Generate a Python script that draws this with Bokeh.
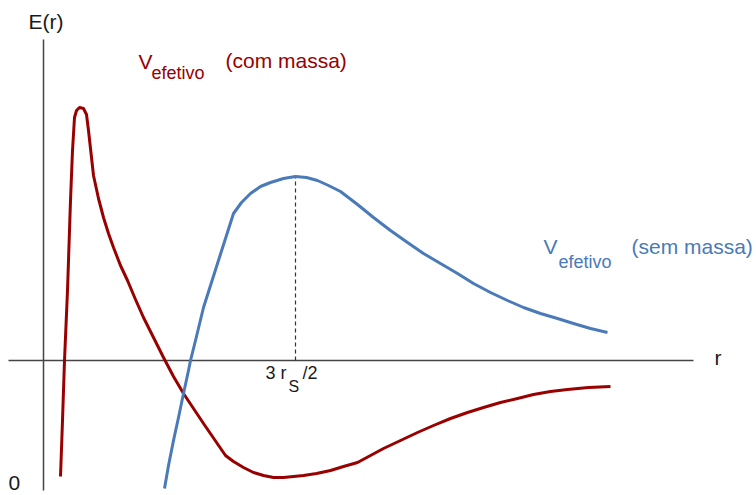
from bokeh.plotting import figure
from bokeh.models import Range1d
from bokeh.core.properties import value
from bokeh.embed import file_html
from bokeh.resources import INLINE

# Effective potential sketch: radius r (arbitrary units), energy E (arbitrary units)
r_massive = [17, 19, 21, 24, 27, 29, 31, 33, 36, 40, 43, 45, 47, 50, 55, 60, 65, 70, 77, 84,
             92, 100, 110, 120, 130, 140, 150, 160, 171, 182, 190, 200, 210, 220, 230, 240,
             250, 260, 273, 287, 300, 314, 327, 340, 357, 374, 390, 407, 424, 440, 457, 474,
             490, 507, 524, 545, 567]
e_massive = [-116, -60, 0, 70, 160, 210, 243, 250, 253, 252, 246, 230, 212, 185, 162, 143, 127,
             113, 95, 80, 61, 43, 23, 3, -16, -33, -48, -63, -79, -95, -101, -107, -112, -115,
             -117, -117, -116, -115, -113, -110, -106, -102, -95, -88, -80, -72, -65, -58, -52,
             -47, -42, -38, -34, -31, -29, -27, -26]

r_massless = [121, 125, 130, 135, 140, 145, 147, 152, 160, 167, 174, 182, 190, 198, 207, 217,
              227, 240, 252, 263, 274, 285, 297, 314, 330, 347, 364, 380, 397, 414, 430, 447,
              464, 480, 497, 514, 530, 547, 564]
e_massless = [-128, -105, -80, -57, -33, -10, 0, 20, 53, 75, 97, 122, 147, 158, 167, 174, 178,
              182, 184, 183, 180, 175, 169, 156, 143, 130, 118, 107, 97, 87, 77, 68, 60, 53, 47,
              42, 37, 32, 28]

# photon-sphere radius 3 r_S / 2 and the peak of the massless potential
r_peak = 252
e_peak = 184

RED = "#990000"
BLUE = "#4a7ab7"
INK = "#1a1a1a"
FONT = value("Liberation Sans")

p = figure(width=756, height=495, output_backend="svg", toolbar_location=None,
           x_range=Range1d(-43, 713), y_range=Range1d(-135, 360), min_border=0,
           background_fill_color="white", border_fill_color="white")
p.axis.visible = False
p.grid.visible = False
p.outline_line_color = None

# hand-drawn axes
p.line([0, 0], [-130, 321], line_color="#444444", line_width=1.5)
p.line([-35, 650], [0, 0], line_color="#444444", line_width=1.5)

# dashed marker at the maximum
p.line([r_peak, r_peak], [0, e_peak], line_color="#333333", line_width=1.2, line_dash="4 3")

p.line(r_massive, e_massive, line_color=RED, line_width=3, line_join="round")
p.line(r_massless, e_massless, line_color=BLUE, line_width=3, line_join="round")


def label(x, y, s, size, color):
    # y is the intended baseline; nudge up to compensate for the renderer's baseline placement
    p.text(x=[x], y=[y + 0.38 * size], text=[s], text_font=FONT,
           text_font_size=f"{size}px", text_color=color, text_align="left",
           text_baseline="alphabetic")


label(-15, 331, "E(r)", 21, INK)
label(-35, -130, "0", 21, INK)
label(671, -5, "r", 21, INK)

label(95, 291, "V", 21, RED)
label(108, 281, "efetivo", 18, RED)
label(182, 292, "(com massa)", 21, RED)

label(500, 106, "V", 21, BLUE)
label(515, 92, "efetivo", 18, BLUE)
label(588, 106, "(sem massa)", 21, BLUE)

label(222, -19, "3 r", 18, INK)
label(245, -32, "S", 16, INK)
label(259, -19, "/2", 18, INK)

open("out.html", "w").write(file_html(p, INLINE))
